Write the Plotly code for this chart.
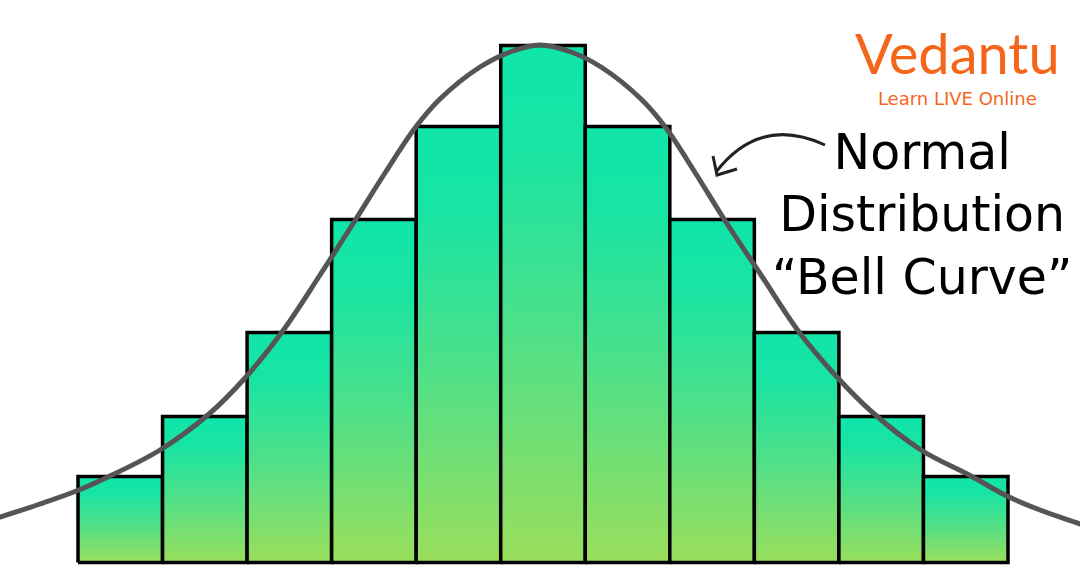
import plotly.graph_objects as go

# ---- data ----
categories = [1, 2, 3, 4, 5, 6, 7, 8, 9, 10, 11]
frequency = [86, 146, 230, 343, 436, 517, 436, 343, 230, 146, 86]

# bell curve (bar units / height units)
curve_x = [-0.541, -0.4226, 0.0505, 0.5237, 0.8785, 1.4699, 2.0495, 2.4753, 2.9129,
           3.3624, 3.7882, 4.1312, 4.4860, 4.7817, 5.2549, 5.6097, 5.9645, 6.3312,
           6.6860, 7.1592, 7.4549, 7.8097, 8.1409, 8.5785, 9.0280, 9.4656, 9.8914,
           10.4710, 11.0624, 11.4882, 11.8785, 12.3516, 12.4699]
curve_y = [42.5, 45.5, 58.5, 73, 86.5, 112.5, 148.5, 184.5, 230.5,
           287.5, 343.5, 389.5, 434.5, 463.5, 495.5, 510.5, 517.5, 510.5,
           495.5, 463.5, 434.5, 388.5, 343.5, 287.5, 230.5, 186.5, 150.5,
           112.5, 86.5, 66.5, 52.5, 38.5, 35]

label_lines = ['Normal', 'Distribution', '\u201cBell Curve\u201d']
brand = 'Vedantu'
tagline = 'Learn LIVE Online'

W, H = 1080, 579
bar_scale = [[0.0, '#9ade5c'], [0.45, '#4ee089'], [0.8, '#18e4a3'], [1.0, '#10e5aa']]

fig = go.Figure()
for c, f in zip(categories, frequency):
    fig.add_trace(go.Scatter(
        x=[c - 0.5, c - 0.5, c + 0.5, c + 0.5, c - 0.5],
        y=[0, f, f, 0, 0],
        mode='lines', fill='toself',
        fillgradient=dict(type='vertical', colorscale=bar_scale),
        line=dict(color='black', width=3.5),
        hoverinfo='skip', showlegend=False))

fig.add_trace(go.Scatter(
    x=curve_x, y=curve_y, mode='lines',
    line=dict(color='#555555', width=5, shape='spline', smoothing=1.0),
    hoverinfo='skip', showlegend=False))


def P(px, py):
    return f"{px / W:.5f},{1 - py / H:.5f}"


shapes = [
    dict(type='path', xref='paper', yref='paper',
         path=f"M {P(825,145)} Q {P(760,115)} {P(716,172)}",
         line=dict(color='#222222', width=3)),
    dict(type='path', xref='paper', yref='paper',
         path=f"M {P(713,156)} L {P(717,175)} L {P(737,169)}",
         line=dict(color='#222222', width=3)),
]

label_text = '<br>'.join(f"<span style='font-size:49px'>{t}</span>" for t in label_lines)
logo_text = (f"<span style='font-size:56px;font-family:Lato'>{brand}</span>"
             f"<br><span style='font-size:18px'>{tagline}</span>")

annotations = [
    dict(text=label_text, x=922 / W, y=1 - 215 / H, xref='paper', yref='paper',
         xanchor='center', yanchor='middle', showarrow=False, align='center',
         font=dict(family='DejaVu Sans, sans-serif', size=48, color='#000000')),
    dict(text=logo_text, x=957 / W, y=1 - 111 / H, xref='paper', yref='paper',
         xanchor='center', yanchor='bottom', showarrow=False, align='center',
         font=dict(family='DejaVu Sans, sans-serif', size=24, color='#f5651a')),
]

fig.update_layout(
    width=W, height=H,
    margin=dict(l=0, r=0, t=0, b=0),
    paper_bgcolor='white', plot_bgcolor='white',
    xaxis=dict(range=[-0.4226, 12.3516], visible=False, fixedrange=True),
    yaxis=dict(range=[-16.5, 562.5], visible=False, fixedrange=True),
    shapes=shapes, annotations=annotations,
    showlegend=False,
)

fig.write_html("out.html", config={'displayModeBar': False},
               post_script="document.body.style.margin='0';document.body.style.padding='0';")
